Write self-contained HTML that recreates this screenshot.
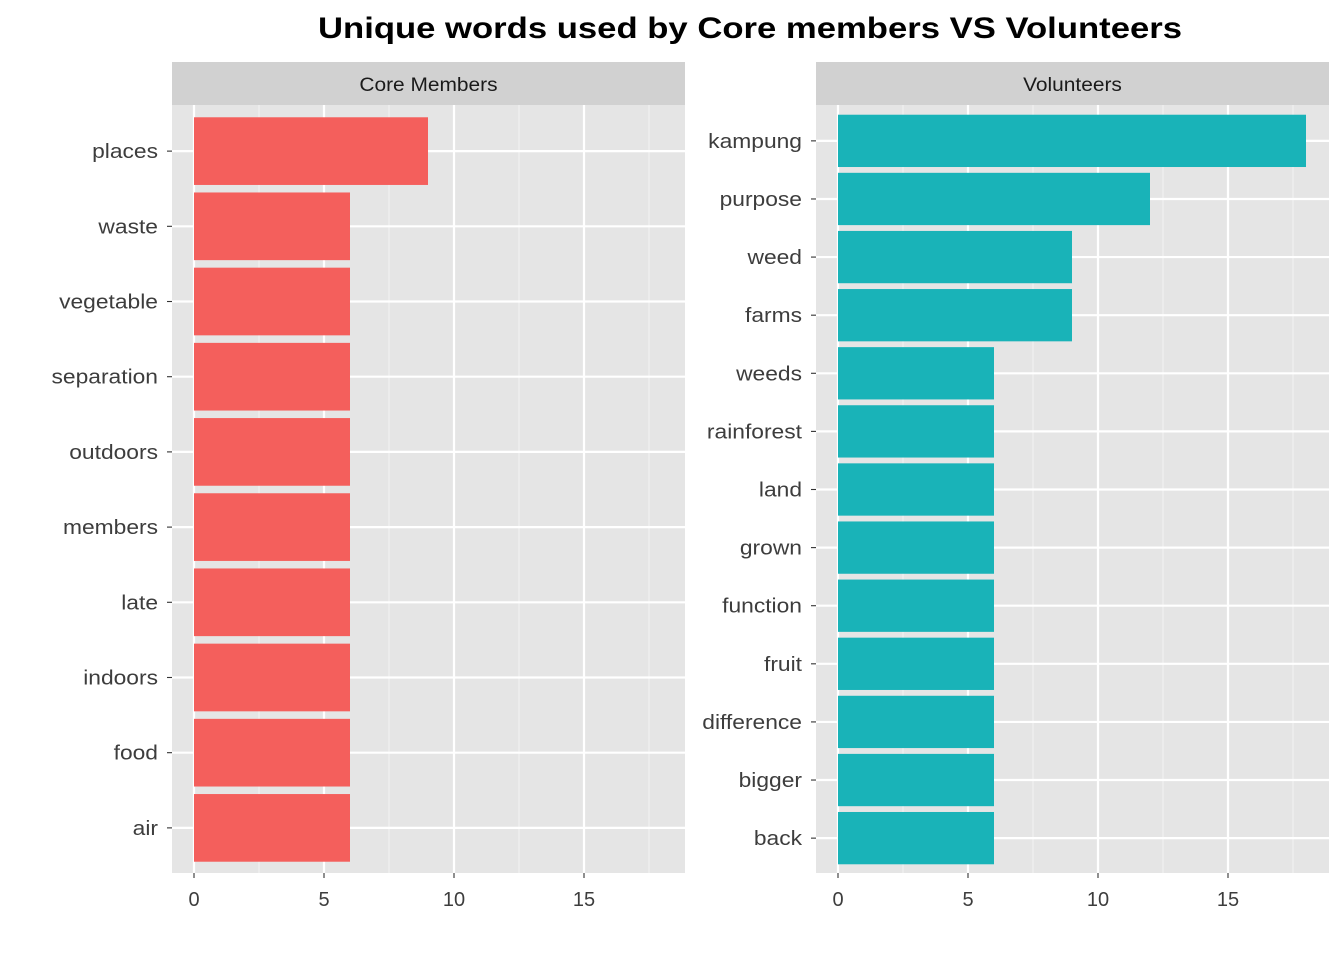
<!DOCTYPE html>
<html><head><meta charset="utf-8"><style>
body{margin:0;background:#fff;font-family:"Liberation Sans",Arial,sans-serif;}
</style></head><body>
<svg id="chart" width="1344" height="960" xmlns="http://www.w3.org/2000/svg">
<text x="750" y="38" text-anchor="middle" font-size="30" font-weight="bold" fill="#000" textLength="864" lengthAdjust="spacingAndGlyphs">Unique words used by Core members VS Volunteers</text>
</svg>
<script>
const coreWords = ["places","waste","vegetable","separation","outdoors","members","late","indoors","food","air"];
const coreCounts = [9,6,6,6,6,6,6,6,6,6];
const volWords = ["kampung","purpose","weed","farms","weeds","rainforest","land","grown","function","fruit","difference","bigger","back"];
const volCounts = [18,12,9,9,6,6,6,6,6,6,6,6,6];
const xTicks = [0,5,10,15];
const xMinor = [2.5,7.5,12.5,17.5];

const svg = document.getElementById('chart');
const NS = 'http://www.w3.org/2000/svg';
function mk(tag, attrs, parent){const e=document.createElementNS(NS,tag);for(const k in attrs)e.setAttribute(k,attrs[k]);(parent||svg).appendChild(e);return e;}
function widen(t, f){const l=t.getComputedTextLength();if(l>0){t.setAttribute('textLength', l*f);t.setAttribute('lengthAdjust','spacingAndGlyphs');}}

function panel(left, right, title, words, counts, color, key){
  const top=106, bottom=873;
  const xs = v => left + 22 + v*26;
  const g = mk('g',{});
  
  
  const strip = mk('rect',{x:left,y:62,width:right-left,height:43,fill:'#d1d1d1'},g);
  
  
  const st = mk('text',{x:(left+right)/2,y:91,'text-anchor':'middle','font-size':19,fill:'#1a1a1a'},g);
  st.textContent = title;
  
  
  widen(st,1.1);
  const bg = mk('rect',{x:left,y:105,width:right-left,height:bottom-105,fill:'#e5e5e5'},g);
  
  
  xMinor.forEach(v=>{mk('line',{x1:xs(v),x2:xs(v),y1:105,y2:bottom,stroke:'#f2f2f2','stroke-width':1.1},g);});
  const n = words.length;
  const step = (bottom-top)/(n-1+1.2);
  const yc = i => top + step*0.6 + i*step;
  words.forEach((w,i)=>{mk('line',{x1:left,x2:right,y1:yc(i),y2:yc(i),stroke:'#fff','stroke-width':2.2},g);});
  xTicks.forEach(v=>{mk('line',{x1:xs(v),x2:xs(v),y1:105,y2:bottom,stroke:'#fff','stroke-width':2.2},g);});
  words.forEach((w,i)=>{
    const h = step*0.9;
    const b = mk('rect',{x:xs(0),y:yc(i)-h/2,width:xs(counts[i])-xs(0),height:h,fill:color},g);
    
    
    mk('line',{x1:left-5,x2:left,y1:yc(i),y2:yc(i),stroke:'#333','stroke-width':1.1},g);
    const t = mk('text',{x:left-14,y:yc(i)+7,'text-anchor':'end','font-size':20,fill:'#3d3d3d'},g);
    t.textContent = w;
    
    
    widen(t,1.14);
  });
  xTicks.forEach(v=>{
    mk('line',{x1:xs(v),x2:xs(v),y1:bottom,y2:bottom+5,stroke:'#333','stroke-width':1.1},g);
    const t = mk('text',{x:xs(v),y:bottom+33,'text-anchor':'middle','font-size':20,fill:'#3d3d3d'},g);
    t.textContent = v;
    
    
  });
}
panel(172,685,'Core Members',coreWords,coreCounts,'#f45f5c','core');
panel(816,1329,'Volunteers',volWords,volCounts,'#19b3b8','volunteers');
</script>
</body></html>
